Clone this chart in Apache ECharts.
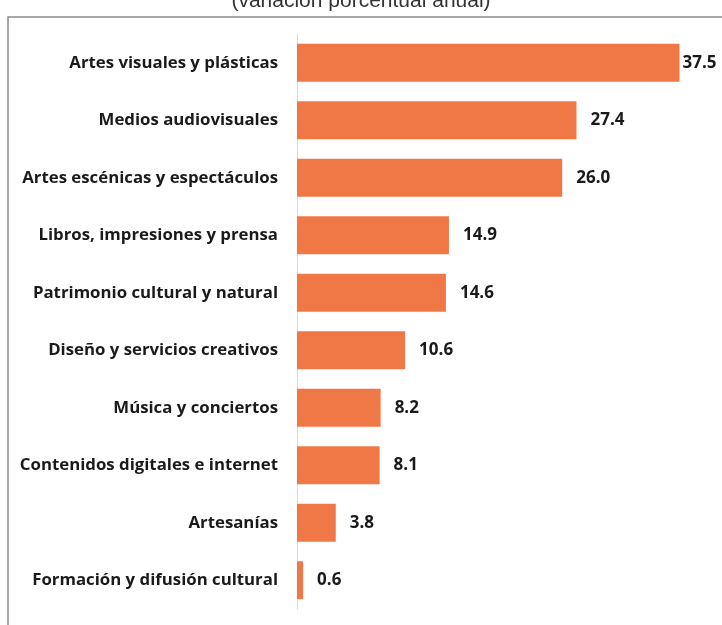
<!DOCTYPE html>
<html><head><meta charset="utf-8">
<script src="https://cdn.jsdelivr.net/npm/echarts@6/dist/echarts.min.js"></script>
<style>html,body{margin:0;padding:0;background:#fff}#c{width:722px;height:625px}</style>
</head><body><div id="c"></div>
<script>
const categories = ["Artes visuales y plásticas","Medios audiovisuales","Artes escénicas y espectáculos","Libros, impresiones y prensa","Patrimonio cultural y natural","Diseño y servicios creativos","Música y conciertos","Contenidos digitales e internet","Artesanías","Formación y difusión cultural"];
const values = [37.5, 27.4, 26.0, 14.9, 14.6, 10.6, 8.2, 8.1, 3.8, 0.6];
const titleText = "(variación porcentual anual)";

const chart = echarts.init(document.getElementById('c'));
chart.setOption({
  animation: false,
  title: { text: titleText, left: 'center', top: -14, textStyle: { fontFamily: 'Liberation Sans', fontSize: 21, fontWeight: 'normal', color: '#333' } },
  graphic: [{ type: 'rect', shape: { x: 8, y: 17, width: 800, height: 700 }, style: { fill: 'none', stroke: '#8a8a8a', lineWidth: 1.5 }, z: -1 }],
  grid: { left: 297, right: 17, top: 34, bottom: 16 },
  xAxis: { type: 'value', min: 0, max: 40, show: false },
  yAxis: {
    type: 'category', data: categories, inverse: true,
    axisLine: { show: true, lineStyle: { color: '#d9d9d9', width: 1 } },
    axisTick: { show: false },
    axisLabel: { margin: 19, fontFamily: 'Open Sans', fontWeight: 700, fontSize: 16.8, color: '#1a1a1a' }
  },
  series: [{
    type: 'bar', barCategoryGap: '34%',
    data: values.map((v, i) => i === 0 ? { value: v, label: { distance: 3 } } : v),
    itemStyle: { color: '#F07847' },
    label: { show: true, position: 'right', distance: 14, formatter: p => p.value.toFixed(1), fontFamily: 'Open Sans', fontWeight: 700, fontSize: 17, color: '#1a1a1a' }
  }]
});
</script></body></html>
